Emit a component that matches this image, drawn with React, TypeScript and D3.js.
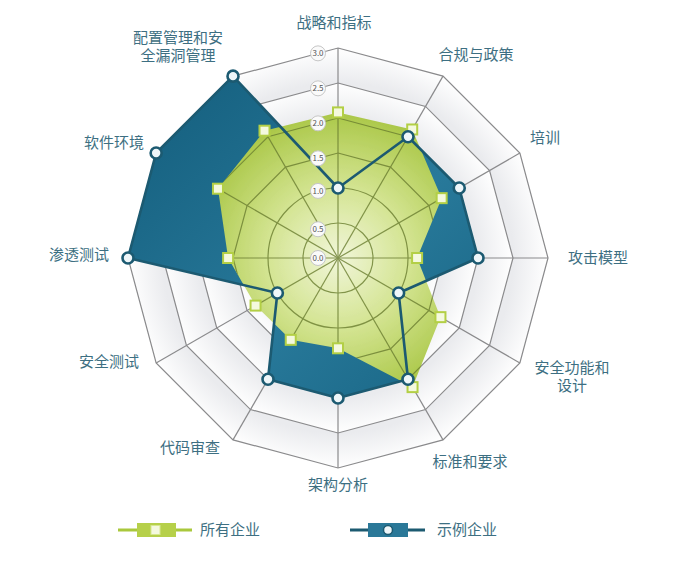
import React from 'react';
import * as d3 from 'd3';

// axes clockwise from the top
const categories = [
  '战略和指标', '合规与政策', '培训', '攻击模型', '安全功能和设计', '标准和要求',
  '架构分析', '代码审查', '安全测试', '渗透测试', '软件环境', '配置管理和安全漏洞管理',
];
// label lines (some labels wrap in two lines)
const labelLines = [
  ['战略和指标'], ['合规与政策'], ['培训'], ['攻击模型'], ['安全功能和', '设计'], ['标准和要求'],
  ['架构分析'], ['代码审查'], ['安全测试'], ['渗透测试'], ['软件环境'], ['配置管理和安', '全漏洞管理'],
];
const allCompanies = [2.08, 2.12, 1.71, 1.13, 1.69, 2.13, 1.29, 1.35, 1.36, 1.57, 1.98, 2.1];
const sampleCompany = [1, 2, 2, 2, 1, 2, 2, 2, 1, 3, 3, 3];
const ticks = [0, 0.5, 1, 1.5, 2, 2.5, 3];
const seriesNames = ['所有企业', '示例企业'];

const W = 680;
const H = 562;
const cx = 338;
const cy = 258;
const R = 210;

const FONT = '"Noto Sans CJK SC", "Noto Sans", sans-serif';
const TEXT = '#3d6f82';
const BLUE_LINE = '#1c5a71';
const GREEN_EDGE = '#b3cf45';

// label anchor spots (px, baseline centre) for each axis
const labelPos: [number, number][] = [
  [334, 28], [476, 60], [545, 143], [598, 263], [572, 373], [470, 467],
  [338, 490], [190, 453], [109, 367], [79, 260], [114, 148], [178, 43],
];

export default function App() {
  const r = d3.scaleLinear().domain([0, 3]).range([0, R]);
  const angle = d3.scaleLinear().domain([0, categories.length]).range([0, 2 * Math.PI]);

  const pt = (i: number, v: number): [number, number] => {
    const a = angle(i);
    return [cx + r(v) * Math.sin(a), cy - r(v) * Math.cos(a)];
  };

  const ringPath = (v: number) =>
    d3.line().curve(d3.curveLinearClosed)(categories.map((_, i) => pt(i, v))) || '';

  const seriesPath = (vals: number[]) =>
    d3.line().curve(d3.curveLinearClosed)(vals.map((v, i) => pt(i, v))) || '';

  const circleRings = [0.5, 1];
  const rings = ticks.filter((t) => t > 0);

  // tick label spot: where each ring crosses x = cx - 20
  const tickX = cx - 20;
  const d = cx - tickX;
  const tickY = (v: number) => {
    if (v === 0) return cy;
    const rr = r(v);
    if (circleRings.includes(v)) return cy - Math.sqrt(rr * rr - d * d);
    return cy - rr + d * Math.tan(Math.PI / 12);
  };

  const gridLines = (stroke: string, width: number, opacity: number) => (
    <g fill="none" stroke={stroke} strokeWidth={width} opacity={opacity}>
      {rings.map((v) =>
        circleRings.includes(v) ? (
          <circle key={v} cx={cx} cy={cy} r={r(v)} />
        ) : (
          <path key={v} d={ringPath(v)} />
        )
      )}
      {categories.map((c, i) => {
        const [x, y] = pt(i, 3);
        return <line key={c} x1={cx} y1={cy} x2={x} y2={y} />;
      })}
    </g>
  );

  const bandRings = [...rings].reverse();

  return (
    <svg width={W} height={H} style={{ position: 'absolute', left: 0, top: 0, background: '#fff' }}>
      <defs>
        {bandRings.map((v) => (
          <radialGradient key={v} id={`band${v * 10}`} gradientUnits="userSpaceOnUse" cx={cx} cy={cy} r={r(v)}>
            <stop offset={(v - 0.5) / v} stopColor="#eaebee" />
            <stop offset={1} stopColor="#ffffff" />
          </radialGradient>
        ))}
        <radialGradient id="greenFill" gradientUnits="userSpaceOnUse" cx={cx} cy={cy} r={160}>
          <stop offset="0" stopColor="#f1f6d9" />
          <stop offset="0.45" stopColor="#d3e491" />
          <stop offset="1" stopColor="#a3c23a" />
        </radialGradient>
        <linearGradient id="blueFill" x1="0" y1="0" x2="1" y2="1">
          <stop offset="0" stopColor="#135d7c" />
          <stop offset="0.6" stopColor="#28799a" />
          <stop offset="1" stopColor="#186584" />
        </linearGradient>
        <clipPath id="greenClip">
          <path d={seriesPath(allCompanies)} />
        </clipPath>
      </defs>

      {/* shaded bands */}
      {bandRings.map((v) =>
        circleRings.includes(v) ? (
          <circle key={v} cx={cx} cy={cy} r={r(v)} fill={`url(#band${v * 10})`} />
        ) : (
          <path key={v} d={ringPath(v)} fill={`url(#band${v * 10})`} />
        )
      )}

      {gridLines('#8a8a8c', 1.2, 1)}

      {/* series fills */}
      <path d={seriesPath(sampleCompany)} fill="url(#blueFill)" />
      <path d={seriesPath(allCompanies)} fill="url(#greenFill)" />

      {/* grid seen through the green fill */}
      <g clipPath="url(#greenClip)">{gridLines('#6a7d30', 1.2, 0.8)}</g>

      {/* sample company line */}
      <path d={seriesPath(sampleCompany)} fill="none" stroke={BLUE_LINE} strokeWidth={2.6} strokeLinejoin="round" />

      {/* all companies markers */}
      {allCompanies.map((v, i) => {
        const [x, y] = pt(i, v);
        return (
          <rect key={i} x={x - 5} y={y - 5} width={10} height={10}
            fill="#f4f9de" stroke={GREEN_EDGE} strokeWidth={2} />
        );
      })}

      {/* sample company markers */}
      {sampleCompany.map((v, i) => {
        const [x, y] = pt(i, v);
        return <circle key={i} cx={x} cy={y} r={5.5} fill="#eef6f9" stroke={BLUE_LINE} strokeWidth={2.6} />;
      })}

      {/* tick labels */}
      {ticks.map((t) => (
        <g key={t} transform={`translate(${tickX},${tickY(t)})`}>
          <circle r={7.5} fill="#fafafa" stroke="#c6c6c6" strokeWidth={1} />
          <text textAnchor="middle" dy="0.35em" fontSize={8} fontFamily={FONT} fill="#555">
            {d3.format('.1f')(t)}
          </text>
        </g>
      ))}

      {/* axis labels */}
      {labelLines.map((lines, i) =>
        lines.map((l, j) => (
          <text key={`${categories[i]}-${j}`} x={labelPos[i][0]} y={labelPos[i][1] + j * 18}
            textAnchor="middle" fontSize={15} fontFamily={FONT} fill={TEXT}>
            {l}
          </text>
        ))
      )}

      {/* legend */}
      <g>
        <line x1={118} x2={192} y1={530} y2={530} stroke="#a9c83c" strokeWidth={3} />
        <rect x={137} y={523} width={39} height={14} fill="#b6d04a" />
        <rect x={151} y={525.5} width={9} height={9} fill="#f4f9de" stroke="#d6e78f" strokeWidth={1} />
        <text x={200} y={535} fontSize={15} fontFamily={FONT} fill={TEXT}>{seriesNames[0]}</text>

        <line x1={350} x2={425} y1={530} y2={530} stroke={BLUE_LINE} strokeWidth={3} />
        <rect x={368} y={523} width={40} height={14} fill="#2a7898" />
        <circle cx={388} cy={530} r={4.5} fill="#eef6f9" stroke={BLUE_LINE} strokeWidth={1.5} />
        <text x={437} y={535} fontSize={15} fontFamily={FONT} fill={TEXT}>{seriesNames[1]}</text>
      </g>
    </svg>
  );
}
